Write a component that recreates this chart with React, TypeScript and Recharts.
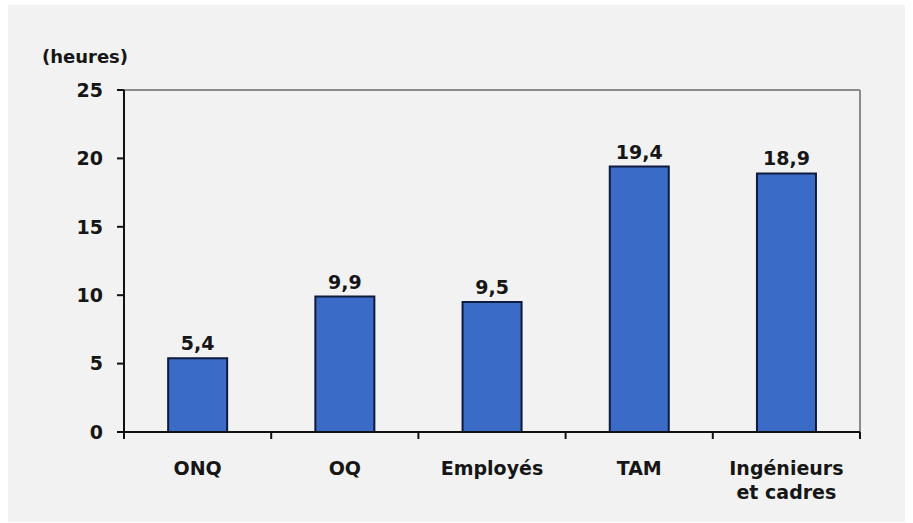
import React from 'react';
import { BarChart, Bar, XAxis, YAxis, LabelList } from 'recharts';

const categories = ['ONQ', 'OQ', 'Employés', 'TAM', 'Ingénieurs\net cadres'];
const hours = [5.4, 9.9, 9.5, 19.4, 18.9];
const yTicks = [0, 5, 10, 15, 20, 25];
const yUnit = '(heures)';

const data = categories.map((c, i) => ({ cat: c, value: hours[i] }));

const FONT = '"DejaVu Sans", Arial, sans-serif';
const BAR_FILL = '#3a6bc6';
const BAR_STROKE = '#0f1a3c';

const XTick = (props: any) => {
  const { x, y, payload, index } = props;
  const off = payload && payload.offset ? payload.offset : 0;
  const axisY = y - 28;
  const lines = String(payload.value).split('\n');
  return (
    <g>
      <line x1={x + off} x2={x + off} y1={axisY} y2={axisY + 7} stroke="#111" strokeWidth={2} />
      {index === 0 && (
        <line x1={x - off} x2={x - off} y1={axisY} y2={axisY + 7} stroke="#111" strokeWidth={2} />
      )}
      <text
        x={x}
        y={y}
        textAnchor="middle"
        fontFamily={FONT}
        fontWeight="bold"
        fontSize={19}
        fill="#161616"
      >
        {lines.map((l, i) => (
          <tspan key={i} x={x} dy={i === 0 ? '0.8em' : '1.25em'}>
            {l}
          </tspan>
        ))}
      </text>
    </g>
  );
};

const HeuresLabel = (props: any) => {
  const vb = props.viewBox || { x: 64, y: 90, width: 60 };
  return (
    <text
      x={vb.x + 21}
      y={vb.y - 27}
      textAnchor="middle"
      fontFamily={FONT}
      fontWeight="bold"
      fontSize={18}
      fill="#161616"
    >
      {yUnit}
    </text>
  );
};

export default function App() {
  return (
    <div style={{ position: 'absolute', left: 0, top: 0, width: 913, height: 523, background: '#ffffff' }}>
      <div style={{ position: 'absolute', left: 8, top: 5, width: 897, height: 517, background: '#f2f2f2' }} />
      <div style={{ position: 'absolute', left: 0, top: 0 }}>
        <BarChart
          width={913}
          height={523}
          data={data}
          margin={{ top: 89, right: 52, bottom: 21, left: 64 }}
          barCategoryGap="30%"
        >
          <XAxis
            xAxisId="top"
            orientation="top"
            dataKey="cat"
            height={1}
            tick={false}
            tickLine={false}
            axisLine={{ stroke: '#8a8a8a', strokeWidth: 2 }}
          />
          <YAxis
            yAxisId="right"
            orientation="right"
            width={1}
            domain={[0, 25]}
            ticks={yTicks}
            tick={false}
            tickLine={false}
            axisLine={{ stroke: '#8a8a8a', strokeWidth: 2 }}
          />
          <XAxis
            dataKey="cat"
            height={70}
            interval={0}
            tickLine={false}
            tickSize={6}
            tickMargin={22}
            axisLine={{ stroke: '#111', strokeWidth: 2 }}
            tick={<XTick />}
          />
          <YAxis
            domain={[0, 25]}
            ticks={yTicks}
            interval={0}
            width={60}
            tickSize={7}
            tickMargin={14}
            axisLine={{ stroke: '#111', strokeWidth: 2 }}
            tickLine={{ stroke: '#111', strokeWidth: 2 }}
            tick={{ fontFamily: FONT, fontWeight: 'bold', fontSize: 19, fill: '#161616' }}
            label={<HeuresLabel />}
          />
          <Bar
            dataKey="value"
            fill={BAR_FILL}
            stroke={BAR_STROKE}
            strokeWidth={2}
            isAnimationActive={false}
          >
            <LabelList
              dataKey="value"
              position="top"
              offset={8}
              formatter={(v: any) => String(v).replace('.', ',')}
              style={{ fontFamily: FONT, fontWeight: 'bold', fontSize: 19, fill: '#161616' }}
            />
          </Bar>
        </BarChart>
      </div>
    </div>
  );
}
